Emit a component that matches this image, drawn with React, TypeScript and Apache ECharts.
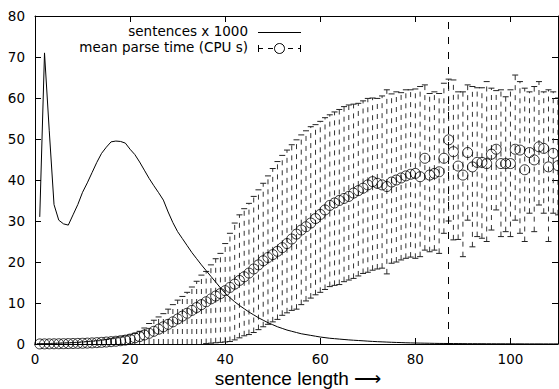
import React, { useEffect, useRef } from "react";
import * as echarts from "echarts";

// sentence length (x), 1..110
const lengths: number[] = Array.from({ length: 110 }, (_, i) => i + 1);

// number of sentences (x 1000) per length
const sentences: number[] = [
  31, 71, 52, 34, 30.2, 29.3, 29.0, 31.5, 34, 37,
  39.3, 41.8, 44.3, 46.5, 48, 49.3, 49.5, 49.4, 49, 47.5,
  46.2, 44.4, 42.4, 40.4, 38.6, 36.9, 35.1, 32.2, 29.6, 27.4,
  25.7, 24.0, 22.3, 20.8, 19.3, 17.9, 16.5, 15.1, 13.7, 12.4,
  11.3, 10.3, 9.4, 8.6, 7.8, 7.1, 6.4, 5.8, 5.2, 4.7,
  4.2, 3.8, 3.4, 3.1, 2.8, 2.5, 2.3, 2.1, 1.9, 1.7,
  1.55, 1.4, 1.3, 1.2, 1.1, 1.0, 0.92, 0.85, 0.78, 0.7,
  0.63, 0.57, 0.52, 0.47, 0.42, 0.38, 0.34, 0.3, 0.27, 0.24,
  0.22, 0.2, 0.18, 0.16, 0.14, 0.13, 0.12, 0.11, 0.1, 0.09,
  0.08, 0.08, 0.07, 0.07, 0.06, 0.06, 0.05, 0.05, 0.05, 0.04,
  0.04, 0.04, 0.03, 0.03, 0.03, 0.03, 0.02, 0.02, 0.02, 0.02,
];

// mean parse time (CPU s)
const meanTime: number[] = [
  0.02, 0.03, 0.04, 0.05, 0.06, 0.08, 0.1, 0.12, 0.15, 0.18,
  0.22, 0.27, 0.33, 0.4, 0.48, 0.57, 0.67, 0.8, 0.95, 1.2,
  1.5, 1.8, 2.2, 2.6, 3.1, 3.6, 4.2, 4.8, 5.4, 6.1,
  6.8, 7.5, 8.2, 8.9, 9.6, 10.3, 11.0, 11.7, 12.3, 13.0,
  13.8, 14.6, 15.5, 16.4, 17.3, 18.3, 19.3, 20.3, 21.1, 21.8,
  22.6, 23.5, 24.5, 25.6, 26.8, 27.8, 28.6, 29.5, 30.6, 31.6,
  32.7, 33.8, 34.4, 35.0, 35.5, 36.0, 36.8, 37.4, 38.0, 38.8,
  39.6, 39.2, 38.8, 38.4, 39.5, 40.0, 40.5, 41.0, 41.4, 41.6,
  40.8, 45.3, 41.2, 41.6, 42.0, 45.3, 49.8, 46.9, 43.4, 41.2,
  46.7, 43.2, 44.3, 44.3, 44.0, 46.3, 47.5, 44.0, 44.0, 44.0,
  47.5, 47.3, 42.5, 46.7, 44.9, 48.1, 47.7, 43.2, 46.5, 43.5,
];

// error bar low / high (CPU s)
const lowTime: number[] = [
  0, 0, 0, 0, 0, 0, 0, 0, 0, 0,
  0, 0, 0, 0, 0, 0, 0, 0, 0, 0,
  0, 0, 0, 0, 0, 0, 0, 0, 0, 0,
  0, 0, 0, 0, 0, 0.1, 0.2, 0.3, 0.4, 0.5,
  0.6, 1.0, 1.5, 2.0, 2.3, 2.8, 3.5, 4.2, 4.8, 5.4,
  6.0, 7.0, 7.6, 8.2, 8.5, 9.6, 10.5, 11.2, 12.0, 12.6,
  13.3, 14.0, 14.3, 14.5, 15.2, 15.6, 16.0, 16.6, 17.2, 17.5,
  18.0, 18.3, 18.5, 17.1, 19.7, 20.0, 20.5, 20.9, 21.2, 20.9,
  21.3, 22.9, 22.5, 22.9, 22.1, 27.0, 30.0, 25.4, 25.5, 21.3,
  30.2, 23.7, 26.2, 25.8, 25.0, 27.8, 32.7, 26.2, 27.4, 26.2,
  30.2, 27.0, 25.0, 31.9, 27.4, 33.9, 31.9, 25.0, 31.9, 31.5,
];

const highTime: number[] = [
  0.1, 0.1, 0.1, 0.15, 0.2, 0.25, 0.3, 0.35, 0.4, 0.5,
  0.6, 0.7, 0.8, 0.95, 1.1, 1.3, 1.5, 1.7, 1.95, 2.2,
  2.6, 3.1, 3.9, 5.0, 5.8, 6.6, 7.4, 8.5, 9.6, 10.7,
  11.6, 12.6, 13.9, 15.3, 16.8, 17.7, 19.3, 20.8, 22.1, 24.5,
  27.0, 29.5, 31.5, 33.0, 34.3, 36.0, 37.6, 39.2, 41.0, 42.8,
  44.5, 46.0, 47.3, 48.6, 49.8, 51.0, 52.0, 53.0, 53.5, 54.3,
  55.2, 55.9, 56.6, 57.2, 57.9, 58.3, 58.5, 58.7, 59.3, 59.9,
  60.0, 59.9, 60.5, 62.0, 61.0, 61.5, 61.3, 62.0, 62.0, 62.2,
  62.8, 63.2, 61.1, 61.5, 61.1, 63.6, 64.6, 64.4, 61.5, 61.5,
  63.2, 62.8, 62.5, 62.5, 64.0, 62.4, 61.8, 62.0, 60.3, 62.0,
  65.6, 64.0, 62.4, 61.5, 62.8, 64.0, 61.5, 62.0, 61.5, 60.0,
];

const CUTOFF_LENGTH = 87;
const X_TITLE = "sentence length \u27F6";
const xTicks = { min: 0, max: 110, interval: 20 };
const yTicks = { min: 0, max: 80, interval: 10 };

const TICK_FONT = "DejaVu Sans";

export default function App() {
  const ref = useRef<HTMLDivElement>(null);
  useEffect(() => {
    if (!ref.current) return;
    const chart = echarts.init(ref.current, null, { renderer: "svg" });
    const sentData = lengths.map((x, i) => [x, sentences[i]]);
    const meanData = lengths.map((x, i) => [x, meanTime[i]]);
    const errData = lengths.map((x, i) => [x, lowTime[i], highTime[i]]);

    const axisCommon = {
      axisLine: { show: true, onZero: false, lineStyle: { color: "#000", width: 1 } },
      axisTick: { show: true, inside: true, length: 6, lineStyle: { color: "#000" } },
      splitLine: { show: false },
    };

    const legendY1 = 32;
    const legendY2 = 48;
    const sx1 = 258;
    const sx2 = 301;

    chart.setOption({
      animation: false,
      backgroundColor: "#fff",
      grid: {
        left: 35,
        top: 16,
        width: 523,
        height: 328,
        containLabel: false,
        outerBoundsMode: "none",
      },
      xAxis: [
        {
          type: "value",
          position: "bottom",
          ...xTicks,
          ...axisCommon,
          axisLabel: {
            color: "#000",
            fontSize: 13.5,
            lineHeight: 14,
            fontFamily: TICK_FONT,
            margin: 8,
            showMaxLabel: false,
          },
        },
        {
          type: "value",
          position: "top",
          ...xTicks,
          ...axisCommon,
          axisLabel: { show: false },
        },
      ],
      yAxis: [
        {
          type: "value",
          position: "left",
          ...yTicks,
          ...axisCommon,
          axisLabel: { color: "#000", fontSize: 13.5, fontFamily: TICK_FONT, margin: 10 },
        },
        {
          type: "value",
          position: "right",
          ...yTicks,
          ...axisCommon,
          axisLabel: { show: false },
        },
      ],
      series: [
        {
          type: "custom",
          name: "mean parse time (CPU s)",
          xAxisIndex: 0,
          yAxisIndex: 0,
          clip: true,
          data: errData,
          encode: { x: 0, y: [1, 2] },
          renderItem: (params: any, api: any) => {
            const x = api.value(0);
            const lo = api.value(1);
            const hi = api.value(2);
            const pLo = api.coord([x, lo]);
            const pHi = api.coord([x, hi]);
            const cap = 3;
            const children: any[] = [
              {
                type: "line",
                shape: { x1: pLo[0], y1: pLo[1], x2: pHi[0], y2: pHi[1] },
                style: { stroke: "#333", lineWidth: 1, lineDash: [5, 5] },
              },
              {
                type: "line",
                shape: { x1: pHi[0] - cap, y1: pHi[1], x2: pHi[0] + cap, y2: pHi[1] },
                style: { stroke: "#222", lineWidth: 1 },
              },
            ];
            if (lo > 0) {
              children.push({
                type: "line",
                shape: { x1: pLo[0] - cap, y1: pLo[1], x2: pLo[0] + cap, y2: pLo[1] },
                style: { stroke: "#222", lineWidth: 1 },
              });
            }
            return { type: "group", children };
          },
          z: 2,
        },
        {
          type: "scatter",
          name: "mean",
          data: meanData,
          symbol: "circle",
          symbolSize: 10,
          itemStyle: { color: "transparent", borderColor: "#000", borderWidth: 1 },
          z: 3,
        },
        {
          type: "line",
          name: "sentences x 1000",
          data: sentData,
          showSymbol: false,
          symbol: "none",
          lineStyle: { color: "#000", width: 1 },
          z: 4,
          markLine: {
            silent: true,
            symbol: "none",
            label: { show: false },
            lineStyle: { color: "#000", width: 1, type: [7, 8] },
            data: [{ xAxis: CUTOFF_LENGTH }],
          },
        },
      ],
      graphic: [
        {
          type: "text",
          x: 298,
          y: 369,
          style: {
            text: X_TITLE,
            fill: "#000",
            font: '19px "Liberation Sans"',
            lineHeight: 19,
            align: "center",
            verticalAlign: "top",
          },
        },
        {
          type: "text",
          right: 559 - 248,
          top: legendY1 - 8,
          style: { text: "sentences x 1000", fill: "#000", font: `13.5px "${TICK_FONT}"`, align: "right" },
        },
        {
          type: "line",
          shape: { x1: sx1, y1: legendY1 + 0.5, x2: sx2, y2: legendY1 + 0.5 },
          style: { stroke: "#000", lineWidth: 1 },
        },
        {
          type: "text",
          right: 559 - 248,
          top: legendY2 - 8,
          style: { text: "mean parse time (CPU s)", fill: "#000", font: `13.5px "${TICK_FONT}"`, align: "right" },
        },
        {
          type: "line",
          shape: { x1: sx1, y1: legendY2 + 0.5, x2: sx2, y2: legendY2 + 0.5 },
          style: { stroke: "#000", lineWidth: 1, lineDash: [5, 5] },
        },
        {
          type: "line",
          shape: { x1: sx1 + 0.5, y1: legendY2 - 3, x2: sx1 + 0.5, y2: legendY2 + 4 },
          style: { stroke: "#000", lineWidth: 1 },
        },
        {
          type: "line",
          shape: { x1: sx2 - 0.5, y1: legendY2 - 3, x2: sx2 - 0.5, y2: legendY2 + 4 },
          style: { stroke: "#000", lineWidth: 1 },
        },
        {
          type: "circle",
          shape: { cx: (sx1 + sx2) / 2, cy: legendY2 + 0.5, r: 5 },
          style: { fill: "#fff", stroke: "#000", lineWidth: 1 },
        },
      ],
    });
    return () => chart.dispose();
  }, []);
  return (
    <div
      ref={ref}
      style={{ position: "absolute", left: 0, top: 0, width: 559, height: 389 }}
    />
  );
}
